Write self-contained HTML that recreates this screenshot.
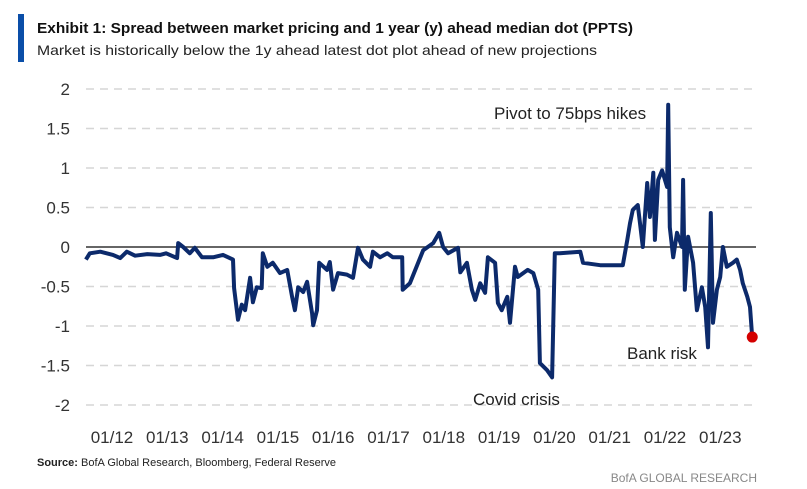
<!DOCTYPE html>
<html><head><meta charset="utf-8"><style>
html,body{margin:0;padding:0;background:#fff;}
svg{display:block;font-family:"Liberation Sans",sans-serif;}
</style></head><body>
<svg id="chart" width="807" height="489" viewBox="0 0 807 489">
<rect x="18" y="14" width="6" height="48" fill="#0a4ea8"/>
<text x="37" y="33" font-size="15" font-weight="bold" fill="#111" textLength="596" lengthAdjust="spacingAndGlyphs">Exhibit 1: Spread between market pricing and 1 year (y) ahead median dot (PPTS)</text>
<text x="37" y="55" font-size="14" fill="#222" textLength="560" lengthAdjust="spacingAndGlyphs">Market is historically below the 1y ahead latest dot plot ahead of new projections</text>
<g id="grid"></g>
<g id="yticks"></g>
<g id="xticks"></g>
<path id="series" fill="none" stroke="#0c2a6b" stroke-width="4" stroke-linejoin="round"/>
<circle id="lastdot" r="5.5" fill="#d40000"/>
<text x="494" y="119" font-size="17" fill="#222">Pivot to 75bps hikes</text>
<text x="627" y="359" font-size="17" fill="#222">Bank risk</text>
<text x="473" y="405" font-size="17" fill="#222">Covid crisis</text>
<text x="37" y="466" font-size="11" fill="#222"><tspan font-weight="bold">Source:</tspan>  BofA Global Research, Bloomberg, Federal Reserve</text>
<text x="757" y="482" font-size="12" fill="#888" text-anchor="end">BofA GLOBAL RESEARCH</text>
</svg>
<script>
const dates=[2011.60,2011.67,2011.86,2012.09,2012.22,2012.34,2012.49,2012.71,2012.94,2013.05,2013.25,2013.27,2013.36,2013.48,2013.57,2013.70,2013.90,2014.08,2014.26,2014.28,2014.35,2014.42,2014.48,2014.57,2014.62,2014.69,2014.78,2014.80,2014.88,2014.98,2015.11,2015.24,2015.33,2015.38,2015.44,2015.53,2015.60,2015.69,2015.71,2015.78,2015.82,2015.96,2016.01,2016.07,2016.16,2016.32,2016.43,2016.52,2016.61,2016.74,2016.79,2016.92,2017.05,2017.15,2017.32,2017.33,2017.46,2017.70,2017.88,2017.99,2018.06,2018.15,2018.33,2018.37,2018.49,2018.58,2018.64,2018.73,2018.82,2018.87,2019.00,2019.05,2019.12,2019.22,2019.27,2019.36,2019.41,2019.59,2019.69,2019.78,2019.81,2019.94,2020.03,2020.08,2020.17,2020.54,2020.59,2020.90,2021.31,2021.39,2021.44,2021.49,2021.58,2021.62,2021.67,2021.75,2021.80,2021.86,2021.89,2021.95,2022.02,2022.11,2022.13,2022.16,2022.22,2022.29,2022.38,2022.40,2022.43,2022.49,2022.58,2022.65,2022.74,2022.80,2022.85,2022.90,2022.94,2023.01,2023.07,2023.12,2023.19,2023.30,2023.37,2023.43,2023.48,2023.56,2023.61,2023.65];
const spread=[-0.16,-0.08,-0.06,-0.10,-0.14,-0.06,-0.11,-0.09,-0.10,-0.08,-0.14,0.05,0.0,-0.08,-0.01,-0.13,-0.13,-0.10,-0.16,-0.52,-0.92,-0.73,-0.80,-0.39,-0.70,-0.51,-0.52,-0.08,-0.25,-0.20,-0.33,-0.29,-0.63,-0.80,-0.51,-0.57,-0.44,-0.84,-0.99,-0.80,-0.20,-0.29,-0.19,-0.54,-0.33,-0.35,-0.39,-0.01,-0.16,-0.25,-0.06,-0.13,-0.08,-0.13,-0.13,-0.54,-0.46,-0.04,0.05,0.18,0.0,-0.08,-0.01,-0.32,-0.20,-0.54,-0.67,-0.46,-0.58,-0.13,-0.20,-0.71,-0.80,-0.63,-0.96,-0.25,-0.38,-0.29,-0.33,-0.54,-1.47,-1.56,-1.65,-0.08,-0.08,-0.06,-0.20,-0.23,-0.23,0.09,0.30,0.47,0.53,0.30,0.0,0.81,0.38,0.94,0.09,0.85,0.97,0.76,1.80,0.25,-0.13,0.18,0.0,0.85,-0.54,0.13,-0.20,-0.80,-0.51,-0.76,-1.27,0.43,-0.96,-0.54,-0.38,0.0,-0.25,-0.20,-0.16,-0.29,-0.46,-0.63,-0.76,-1.14];
const yTicks=[2,1.5,1,0.5,0,-0.5,-1,-1.5,-2];
const yTickLabels=["2","1.5","1","0.5","0","-0.5","-1","-1.5","-2"];
const xTickYears=[2012,2013,2014,2015,2016,2017,2018,2019,2020,2021,2022,2023];
const xTickLabels=["01/12","01/13","01/14","01/15","01/16","01/17","01/18","01/19","01/20","01/21","01/22","01/23"];

const NS="http://www.w3.org/2000/svg";
function xScale(t){return 108+(t-2012)*55.3;}
function yScale(v){return 247-v*79;}
const grid=document.getElementById('grid'),yt=document.getElementById('yticks'),xt=document.getElementById('xticks');
yTicks.forEach((v,i)=>{
  const l=document.createElementNS(NS,'line');
  l.setAttribute('x1',86);l.setAttribute('x2',756);
  l.setAttribute('y1',yScale(v));l.setAttribute('y2',yScale(v));
  if(v===0){l.setAttribute('stroke','#333');l.setAttribute('stroke-width','1.5');}
  else{l.setAttribute('stroke','#d6d6d6');l.setAttribute('stroke-width','1.5');l.setAttribute('stroke-dasharray','8 6');}
  
  
  grid.appendChild(l);
  const t=document.createElementNS(NS,'text');
  t.setAttribute('x',70);t.setAttribute('y',yScale(v)+6);
  t.setAttribute('text-anchor','end');t.setAttribute('font-size','17');t.setAttribute('fill','#333');
  t.textContent=yTickLabels[i];
  
  
  yt.appendChild(t);
});
xTickYears.forEach((yr,i)=>{
  const t=document.createElementNS(NS,'text');
  t.setAttribute('x',xScale(yr)+4);t.setAttribute('y',443);
  t.setAttribute('text-anchor','middle');t.setAttribute('font-size','17');t.setAttribute('fill','#333');
  t.textContent=xTickLabels[i];
  
  
  xt.appendChild(t);
});
let d='';
dates.forEach((t,i)=>{d+=(i?'L':'M')+xScale(t).toFixed(1)+' '+yScale(spread[i]).toFixed(1);});
document.getElementById('series').setAttribute('d',d);
const last=dates.length-1;
const dot=document.getElementById('lastdot');
dot.setAttribute('cx',xScale(dates[last]));dot.setAttribute('cy',yScale(spread[last]));
</script>
</body></html>
